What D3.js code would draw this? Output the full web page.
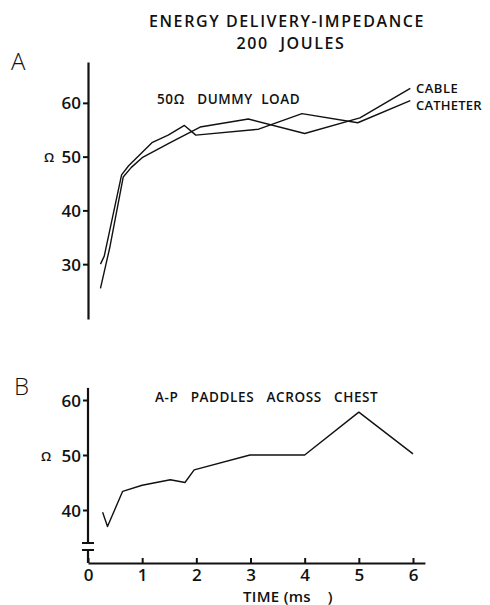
<!DOCTYPE html>
<html>
<head>
<meta charset="utf-8">
<script src="https://cdn.jsdelivr.net/npm/d3@7"></script>
<style>
  body { margin: 0; background: #fff; }
  svg { display: block; }
  text { font-family: "Open Sans", "DejaVu Sans", sans-serif; fill: #111; white-space: pre; }
</style>
</head>
<body>
<svg id="chart" width="490" height="605"></svg>
<script>
// ---- data ----
const titleLines = ["ENERGY DELIVERY-IMPEDANCE", "200  JOULES"];
const xTicks = [0, 1, 2, 3, 4, 5, 6];
const yTicksA = [30, 40, 50, 60];
const yTicksB = [40, 50, 60];

const cableTime = [0.23, 0.40, 0.65, 0.80, 1.00, 1.50, 2.07, 2.96, 4.00, 5.02, 5.95];
const cableOhm  = [25.5, 33.0, 46.2, 48.0, 49.8, 52.5, 55.5, 57.0, 54.3, 57.2, 62.7];

const cathTime = [0.23, 0.30, 0.62, 0.75, 1.18, 1.48, 1.78, 1.99, 3.15, 3.95, 4.98, 5.95];
const cathOhm  = [30.0, 31.5, 46.6, 48.3, 52.6, 54.0, 55.8, 54.0, 55.1, 58.0, 56.3, 60.4];

const chestTime = [0.27, 0.36, 0.64, 1.00, 1.52, 1.79, 1.96, 2.99, 4.00, 5.00, 6.00];
const chestOhm  = [39.6, 37.0, 43.4, 44.5, 45.5, 45.0, 47.3, 50.0, 50.0, 57.8, 50.2];

// ---- layout ----
const svg = d3.select("#chart");
const x = d3.scaleLinear().domain([0, 6]).range([88, 413]);
const yA = d3.scaleLinear().domain([19.8, 67.6]).range([319, 62]);
const yB = d3.scaleLinear().domain([40, 60]).range([510, 400]);

const ink = "#111";

// title
svg.append("text").attr("x", 287).attr("y", 27).attr("text-anchor", "middle")
  .style("font-size", "16px").style("font-weight", 600).style("letter-spacing", "1.6px").text(titleLines[0]);
svg.append("text").attr("x", 291).attr("y", 49).attr("text-anchor", "middle")
  .style("font-size", "16px").style("font-weight", 600).style("letter-spacing", "1.6px").text(titleLines[1]);

// panel letters
svg.append("text").attr("x", 11).attr("y", 70).style("font-size", "24px").style("font-weight", 300).text("A");
svg.append("text").attr("x", 14).attr("y", 395).style("font-size", "24px").style("font-weight", 300).text("B");

// ---- Panel A ----
const gA = svg.append("g");
const axA = d3.axisLeft(yA).tickValues(yTicksA).tickSizeInner(5).tickSizeOuter(0).tickPadding(2);
const axAg = gA.append("g").attr("transform", "translate(88,0)").call(axA);
axAg.select(".domain").attr("stroke", ink).attr("stroke-width", 2.2);
axAg.selectAll(".tick line").attr("stroke", ink).attr("stroke-width", 2);
axAg.selectAll(".tick text").style("font-size", "17px").style("font-weight", 600)
  .style("font-family", "'Open Sans', sans-serif").attr("fill", ink).attr("dy", "0.36em");

gA.append("text").attr("x", 44).attr("y", 162).style("font-size", "13px").style("font-weight", 600).text("Ω");

const line = (ys) => d3.line().x(d => x(d[0])).y(d => ys(d[1]));
const zip = (a, b) => a.map((v, i) => [v, b[i]]);

gA.append("path").datum(zip(cableTime, cableOhm)).attr("d", line(yA))
  .attr("fill", "none").attr("stroke", ink).attr("stroke-width", 1.4).attr("stroke-linejoin", "round");
gA.append("path").datum(zip(cathTime, cathOhm)).attr("d", line(yA))
  .attr("fill", "none").attr("stroke", ink).attr("stroke-width", 1.4).attr("stroke-linejoin", "round");

gA.append("text").attr("x", 157).attr("y", 104).style("font-size", "13.5px").style("font-weight", 600)
  .style("letter-spacing", "0.6px").text("50Ω   DUMMY  LOAD");
gA.append("text").attr("x", 416).attr("y", 93).style("font-size", "13px").style("font-weight", 600)
  .style("letter-spacing", "0.5px").text("CABLE");
gA.append("text").attr("x", 416).attr("y", 110).style("font-size", "13px").style("font-weight", 600)
  .style("letter-spacing", "0.2px").text("CATHETER");

// ---- Panel B ----
const gB = svg.append("g");
const axB = d3.axisLeft(yB).tickValues(yTicksB).tickSizeInner(5).tickSizeOuter(0).tickPadding(2);
const axBg = gB.append("g").attr("transform", "translate(88,0)").call(axB);
axBg.select(".domain").remove();
axBg.selectAll(".tick line").attr("stroke", ink).attr("stroke-width", 2);
axBg.selectAll(".tick text").style("font-size", "17px").style("font-weight", 600)
  .style("font-family", "'Open Sans', sans-serif").attr("fill", ink).attr("dy", "0.36em");
// broken y axis
const yTopB = yB(62.2), yBreak1 = 543, yBreak2 = 550, yAxisX = 563;
gB.append("line").attr("x1", 88).attr("x2", 88).attr("y1", yTopB).attr("y2", yBreak1)
  .attr("stroke", ink).attr("stroke-width", 2.2);
gB.append("line").attr("x1", 88).attr("x2", 88).attr("y1", yBreak2).attr("y2", yAxisX)
  .attr("stroke", ink).attr("stroke-width", 2.2);
gB.append("line").attr("x1", 82).attr("x2", 94).attr("y1", yBreak1).attr("y2", yBreak1)
  .attr("stroke", ink).attr("stroke-width", 2);
gB.append("line").attr("x1", 82).attr("x2", 94).attr("y1", yBreak2).attr("y2", yBreak2)
  .attr("stroke", ink).attr("stroke-width", 2);

gB.append("text").attr("x", 41).attr("y", 461).style("font-size", "13px").style("font-weight", 600).text("Ω");

// x axis
const xAxisScale = d3.scaleLinear().domain([0, 6.22]).range([88, x(6.22)]);
const axX = d3.axisBottom(xAxisScale).tickValues(xTicks).tickSizeInner(-5).tickSizeOuter(0).tickPadding(6)
  .tickFormat(d3.format("d"));
const axXg = gB.append("g").attr("transform", `translate(0,${yAxisX})`).call(axX);
axXg.select(".domain").attr("stroke", ink).attr("stroke-width", 2.2);
axXg.selectAll(".tick line").attr("stroke", ink).attr("stroke-width", 2);
axXg.selectAll(".tick text").style("font-size", "17px").style("font-weight", 600)
  .style("font-family", "'Open Sans', sans-serif").attr("fill", ink);

gB.append("text").attr("x", 243).attr("y", 602).style("font-size", "15px").style("font-weight", 600)
  .style("letter-spacing", "0.3px").text("TIME (ms    )");

gB.append("path").datum(zip(chestTime, chestOhm)).attr("d", line(yB))
  .attr("fill", "none").attr("stroke", ink).attr("stroke-width", 1.4).attr("stroke-linejoin", "round");

gB.append("text").attr("x", 155).attr("y", 402).style("font-size", "13.5px").style("font-weight", 600)
  .style("letter-spacing", "0.6px").text("A-P   PADDLES   ACROSS   CHEST");
</script>
</body>
</html>
